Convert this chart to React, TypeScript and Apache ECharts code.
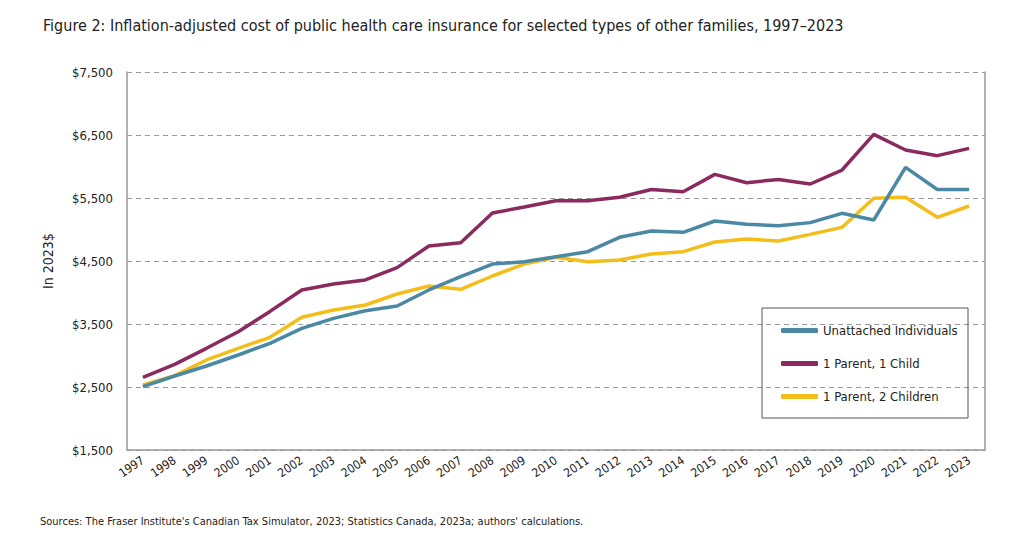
import React, { useEffect, useRef } from "react";
import * as echarts from "echarts";

const years = ["1997","1998","1999","2000","2001","2002","2003","2004","2005","2006","2007","2008","2009","2010","2011","2012","2013","2014","2015","2016","2017","2018","2019","2020","2021","2022","2023"];
const unattached = [2505,2675,2833,3008,3193,3430,3590,3711,3786,4040,4251,4452,4489,4569,4648,4876,4976,4955,5135,5082,5060,5109,5257,5151,5987,5635,5635];
const parent1Child = [2654,2860,3114,3378,3700,4040,4135,4200,4394,4738,4790,5262,5357,5457,5457,5511,5635,5600,5875,5743,5795,5722,5944,6510,6262,6172,6288];
const parent2Children = [2532,2680,2929,3114,3289,3606,3722,3802,3976,4103,4050,4262,4452,4560,4489,4516,4611,4648,4802,4849,4817,4923,5034,5495,5511,5193,5373];
const seriesNames = ["Unattached Individuals","1 Parent, 1 Child","1 Parent, 2 Children"];
const colors = ["#4a88a3","#8a2a5e","#f3be1b"];

const FONT = "'DejaVu Sans Condensed', 'Liberation Sans Narrow', Roboto, sans-serif";

export default function App() {
  const ref = useRef<HTMLDivElement>(null);
  useEffect(() => {
    const chart = echarts.init(ref.current!, null, { renderer: "svg" });
    const data = [unattached, parent1Child, parent2Children];
    chart.setOption({
      animation: false,
      backgroundColor: "#fff",
      textStyle: { fontFamily: FONT },
      title: {
        text: "Figure 2: Inflation-adjusted cost of public health care insurance for selected types of other families, 1997–2023",
        left: 38, top: 12,
        textStyle: { fontFamily: FONT, fontSize: 16, fontWeight: "normal", color: "#222" },
      },
      grid: { left: 127, right: 39, top: 72, bottom: 106 },
      legend: {
        orient: "vertical",
        left: 776, top: 319,
        itemWidth: 37, itemHeight: 5, itemGap: 20,
        icon: "roundRect",
        data: seriesNames,
        textStyle: { fontFamily: FONT, fontSize: 13, color: "#222" },
      },
      graphic: [
        { type: "rect", shape: { x: 762, y: 308, width: 206, height: 110 }, style: { fill: "none", stroke: "#555", lineWidth: 1 }, z: 100 },
        {
          type: "text", left: 40, top: 516,
          style: { text: "Sources: The Fraser Institute's Canadian Tax Simulator, 2023; Statistics Canada, 2023a; authors' calculations.", fontFamily: FONT, fontSize: 11, fill: "#222" },
        },
      ],
      xAxis: {
        type: "category",
        data: years,
        boundaryGap: true,
        axisLine: { lineStyle: { color: "#999", width: 1.5 } },
        axisTick: { show: false },
        axisLabel: { rotate: 34, interval: 0, fontFamily: FONT, fontSize: 12, color: "#222", margin: 9 },
      },
      yAxis: [
        {
          type: "value", min: 1500, max: 7500, interval: 1000,
          name: "In 2023$", nameLocation: "middle", nameGap: 72,
          nameTextStyle: { fontFamily: FONT, fontSize: 14, color: "#222" },
          axisLine: { show: true, lineStyle: { color: "#999", width: 1.5 } },
          axisTick: { show: false },
          splitLine: { lineStyle: { color: "#999", type: [5, 4], width: 1 } },
          axisLabel: {
            fontFamily: FONT, fontSize: 13, color: "#222", margin: 14,
            formatter: (v: number) => "$" + v.toLocaleString("en-US"),
          },
        },
        {
          type: "value", min: 1500, max: 7500, interval: 1000, position: "right",
          axisLine: { show: true, lineStyle: { color: "#999", width: 1.5 } },
          axisTick: { show: false }, axisLabel: { show: false }, splitLine: { show: false },
        },
      ],
      series: seriesNames.map((n, i) => ({
        name: n, type: "line", data: data[i], showSymbol: false, symbol: "none",
        lineStyle: { color: colors[i], width: 3.5 }, itemStyle: { color: colors[i] },
        z: 3 - i + 2,
      })),
    });
    return () => chart.dispose();
  }, []);
  return <div ref={ref} style={{ width: 1024, height: 556, position: "absolute", left: 0, top: 0 }} />;
}
